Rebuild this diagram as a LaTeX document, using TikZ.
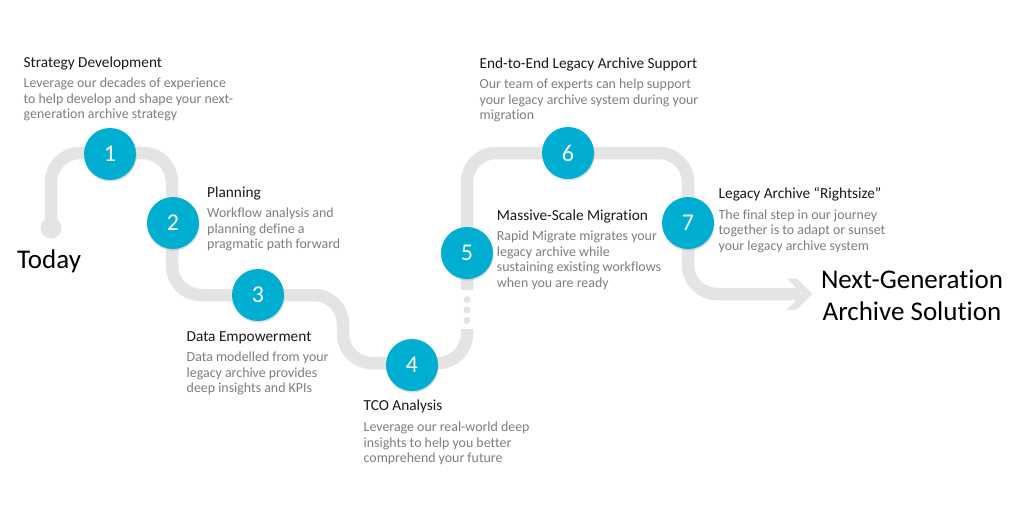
\documentclass[tikz,border=0pt]{standalone}
\usepackage{fontspec}
\setmainfont{Carlito}[Ligatures={NoCommon,NoContextual}]
\usetikzlibrary{shadows}
\definecolor{teal1}{RGB}{0,174,209}
\definecolor{road}{RGB}{228,228,228}
\definecolor{desc}{RGB}{125,125,125}
\definecolor{ttl}{RGB}{25,25,25}
\tikzset{
  roadline/.style={draw=road,line width=12.5pt,rounded corners=29pt},
  stepcirc/.style={circle,fill=teal1,minimum size=52pt,inner sep=0pt,text=white,
    font=\fontsize{24}{24}\selectfont,
    drop shadow={opacity=0.28,shadow xshift=0.6pt,shadow yshift=-1.6pt}},
  ttlnode/.style={anchor=base west,inner sep=0pt,text=ttl,font=\fontsize{15.3}{18}\selectfont},
  descnode/.style={anchor=base west,inner sep=0pt,text=desc,font=\fontsize{13.9}{15.5}\selectfont},
  bignode/.style={inner sep=0pt,text=black,font=\fontsize{27}{32}\selectfont},
  roaddot/.style={circle,fill=road,inner sep=0pt}
}
\newcommand{\lines}[1]{\begin{tabular}[t]{@{}l@{}}#1\end{tabular}}
\begin{document}
\begin{tikzpicture}[x=1pt,y=-1pt]
\useasboundingbox (0,0) rectangle (1024,522);
% road coordinates
\coordinate (s0) at (51,228);
\coordinate (c1) at (51,153);
\coordinate (c2) at (172,153);
\coordinate (c3) at (172,295);
\coordinate (c4) at (343,295);
\coordinate (c5) at (343,363);
\coordinate (c6) at (467,363);
\coordinate (e1) at (467,329);
\coordinate (b1) at (467,290);
\coordinate (c7) at (467,153);
\coordinate (c8) at (688,153);
\coordinate (c9) at (688,294);
\coordinate (e2) at (801,294);
% road pieces
\draw[roadline] (s0) -- (c1) -- (c2) -- (c3) -- (c4) -- (c5) -- (c6) -- (e1);
\draw[roadline] (b1) -- (c7) -- (c8) -- (c9) -- (e2);
\node[roaddot,minimum size=21pt] (startdot) at (s0) {};
\node[roaddot,minimum size=7pt] (dt1) at (467,299.5) {};
\node[roaddot,minimum size=7pt] (dt2) at (467,310) {};
\node[roaddot,minimum size=7pt] (dt3) at (467,320.5) {};
\fill[road] (787,278.5) -- (797,278.5) -- (812,294) -- (797,309.5) -- (787,309.5) -- (802,294) -- cycle;
% steps
\node[stepcirc] (n1) at (110,154) {1};
\node[stepcirc] (n2) at (173,223) {2};
\node[stepcirc] (n3) at (258,295) {3};
\node[stepcirc] (n4) at (412,365) {4};
\node[stepcirc] (n5) at (467,253) {5};
\node[stepcirc] (n6) at (568,153) {6};
\node[stepcirc] (n7) at (688,223) {7};
% big labels
\node[bignode,anchor=base west] (today) at (17,268.5) {Today};
\node[bignode,anchor=base] (next1) at (912,288.5) {Next-Generation};
\node[bignode,anchor=base] (next2) at (912,320.5) {Archive Solution};
% texts
\node[ttlnode] (t1) at (23.5,67.3) {Strategy Development};
\node[descnode] (d1) at (23.5,87.7) {\lines{Leverage our decades of experience\\to help develop and shape your next-\\generation archive strategy}};
\node[ttlnode] (t2) at (207,197) {Planning};
\node[descnode] (d2) at (207,217.5) {\lines{Workflow analysis and\\planning define a\\pragmatic path forward}};
\node[ttlnode] (t3) at (186.5,341.8) {Data Empowerment};
\node[descnode] (d3) at (186.5,361.7) {\lines{Data modelled from your\\legacy archive provides\\deep insights and KPIs}};
\node[ttlnode] (t4) at (363.5,410.8) {TCO Analysis};
\node[descnode] (d4) at (363.5,431.7) {\lines{Leverage our real-world deep\\insights to help you better\\comprehend your future}};
\node[ttlnode] (t6) at (479.5,68) {End-to-End Legacy Archive Support};
\node[descnode] (d6) at (479.5,88.5) {\lines{Our team of experts can help support\\your legacy archive system during your\\migration}};
\node[ttlnode] (t5) at (496.7,220) {Massive-Scale Migration};
\node[descnode] (d5) at (496.7,240.6) {\lines{Rapid Migrate migrates your\\legacy archive while\\sustaining existing workflows\\when you are ready}};
\node[ttlnode] (t7) at (718.5,198.3) {Legacy Archive “Rightsize”};
\node[descnode] (d7) at (718.5,219.4) {\lines{The final step in our journey\\together is to adapt or sunset\\your legacy archive system}};
\end{tikzpicture}
\end{document}
